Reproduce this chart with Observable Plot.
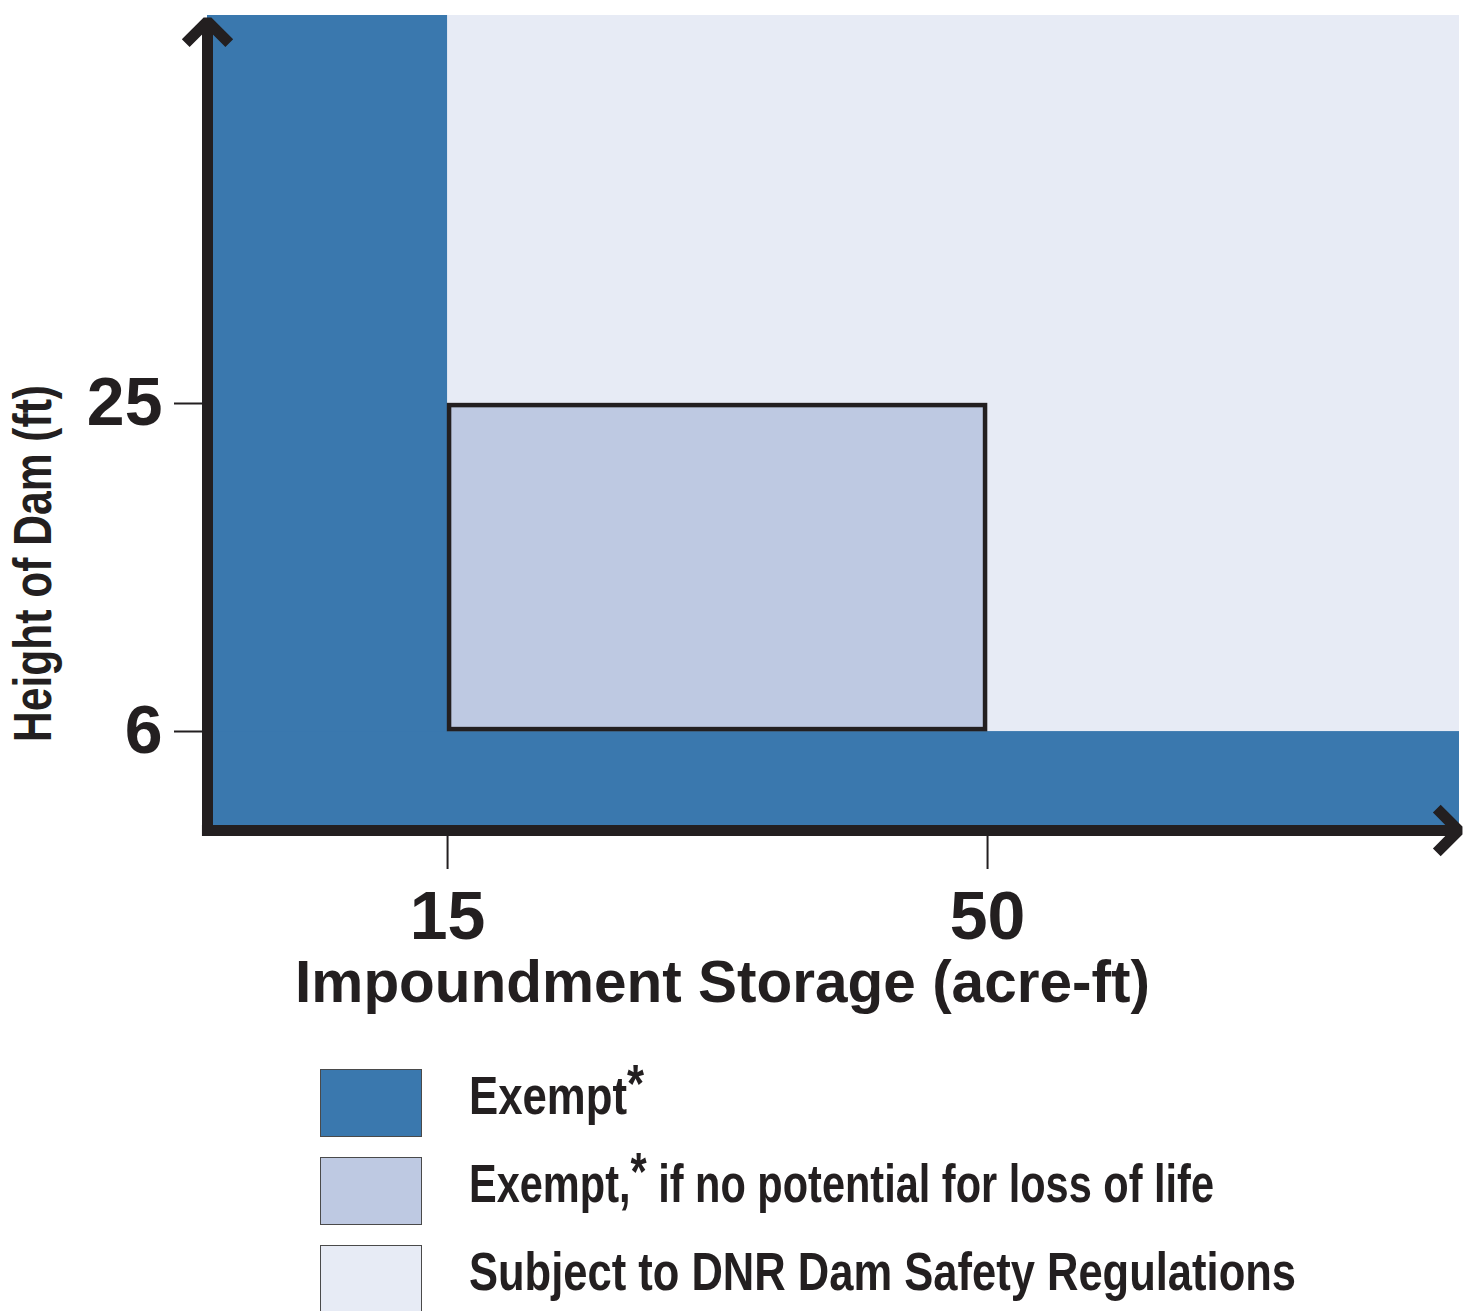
<!DOCTYPE html>
<html>
<head>
<meta charset="utf-8">
<script src="https://cdn.jsdelivr.net/npm/d3@7"></script>
<script src="https://cdn.jsdelivr.net/npm/@observablehq/plot@0.6"></script>
<style>
  html, body { margin: 0; padding: 0; background: #fff; }
  body { width: 1472px; height: 1311px; overflow: hidden; position: relative;
         font-family: "Liberation Sans", Arial, sans-serif; color: #231f20; }
  #chart svg { display: block; }
  #legend { position: absolute; left: 320px; top: 1069px; }
  .row { position: relative; height: 88px; width: 1100px; }
  .sw { position: absolute; left: 0; top: 0; width: 100px; height: 66px; border: 1px solid #4a4a4a; box-sizing: content-box; }
  .lab { position: absolute; left: 149px; top: 0; white-space: nowrap; line-height: 1;
         font-family: "Liberation Sans", Arial, sans-serif; transform-origin: 0 0;
         font-weight: bold; font-size: 53px; color: #231f20; }
  .ast { position: relative; top: -12px; }
</style>
</head>
<body>
<div id="chart"></div>
<div id="legend"></div>
<script>
// ---- data ----
const storageBreaks = [15, 50];          // acre-ft thresholds (x)
const heightBreaks = [6, 25];            // ft thresholds (y)
const xExtent = [-0.56, 80.59];          // visible storage range
const yExtent = [0.27, 47.48];           // visible height range
const xArrow = [-0.92, 80.53];           // x axis arrow span
const yArrow = [-0.05, 47.14];           // y axis arrow span
const zoneLabels = ["Exempt*", "Exempt,* if no potential for loss of life", "Subject to DNR Dam Safety Regulations"];
const zoneColors = ["#3a78ae", "#bec9e2", "#e7ebf5"];
const xLabel = "Impoundment Storage (acre-ft)";
const yLabel = "Height of Dam (ft)";
const ink = "#231f20";

// zones built from thresholds
const subjectZone = [{x1: xExtent[0], x2: xExtent[1], y1: yExtent[0], y2: yExtent[1]}];
const exemptZones = [
  {x1: xExtent[0], x2: storageBreaks[0], y1: yExtent[0], y2: yExtent[1]},
  {x1: xExtent[0], x2: xExtent[1], y1: yExtent[0], y2: heightBreaks[0]}
];
const conditionalZone = [{x1: storageBreaks[0], x2: storageBreaks[1], y1: heightBreaks[0], y2: heightBreaks[1]}];
const axisArrows = [
  {x1: xArrow[0], y1: yExtent[0], x2: xArrow[1], y2: yExtent[0]},
  {x1: xExtent[0], y1: yArrow[0], x2: xExtent[0], y2: yArrow[1]}
];

const chart = Plot.plot({
  width: 1472,
  height: 1040,
  marginLeft: 207,
  marginRight: 13,
  marginTop: 15,
  marginBottom: 210,
  style: {background: "#fff", fontFamily: "'Liberation Sans', Arial, sans-serif"},
  x: {domain: xExtent},
  y: {domain: yExtent},
  marks: [
    Plot.rect(subjectZone, {x1: "x1", x2: "x2", y1: "y1", y2: "y2", fill: zoneColors[2]}),
    Plot.rect(exemptZones, {x1: "x1", x2: "x2", y1: "y1", y2: "y2", fill: zoneColors[0]}),
    Plot.rect(conditionalZone, {x1: "x1", x2: "x2", y1: "y1", y2: "y2", fill: zoneColors[1],
      stroke: ink, strokeWidth: 4.5, inset: 2}),
    Plot.axisX({ticks: storageBreaks, tickFormat: d => String(d), tickSize: 39, tickPadding: 21,
      fontSize: 68, fontWeight: "bold", color: ink, strokeWidth: 2, label: null}),
    Plot.axisY({ticks: heightBreaks, tickFormat: d => String(d), tickSize: 33, tickPadding: 12,
      fontSize: 68, fontWeight: "bold", color: ink, strokeWidth: 2, label: null}),
    Plot.arrow(axisArrows, {x1: "x1", y1: "y1", x2: "x2", y2: "y2", stroke: ink, strokeWidth: 11,
      headAngle: 90, headLength: 4.2, strokeLinejoin: "miter", strokeLinecap: "butt"}),
    Plot.text([xLabel], {text: d => d, frameAnchor: "bottom", textAnchor: "middle", lineAnchor: "middle",
      dx: -111, dy: 153, fontSize: 58.5, fontWeight: "bold", fill: ink}),
    Plot.text([yLabel], {text: d => d, frameAnchor: "left", textAnchor: "middle", lineAnchor: "middle",
      rotate: -90, dx: -173, dy: 140.5, fontSize: 53, fontWeight: "bold", fill: ink})
  ]
});
document.getElementById("chart").appendChild(chart);

// condense the y-axis title like the reference's narrow face
d3.select(chart).selectAll("text").filter(function () { return this.textContent === yLabel; })
  .attr("textLength", 357).attr("lengthAdjust", "spacingAndGlyphs");

// legend
const legend = d3.select("#legend");
const labs = [];
zoneLabels.forEach((lab, i) => {
  const row = legend.append("div").attr("class", "row");
  row.append("div").attr("class", "sw").style("background", zoneColors[i]);
  const parts = lab.split("*");
  const t = row.append("div").attr("class", "lab");
  parts.forEach((p, j) => {
    t.append("span").text(p);
    if (j < parts.length - 1) t.append("span").attr("class", "ast").text("*");
  });
  labs.push(t.node());
});
// condensed look: horizontal squeeze per row to match the narrow face's run lengths
const rowSpan = [175, 745, 827];
labs.forEach((n, i) => {
  const w = n.getBoundingClientRect().width;
  n.style.transform = `scaleX(${rowSpan[i] / w})`;
});
</script>
</body>
</html>
